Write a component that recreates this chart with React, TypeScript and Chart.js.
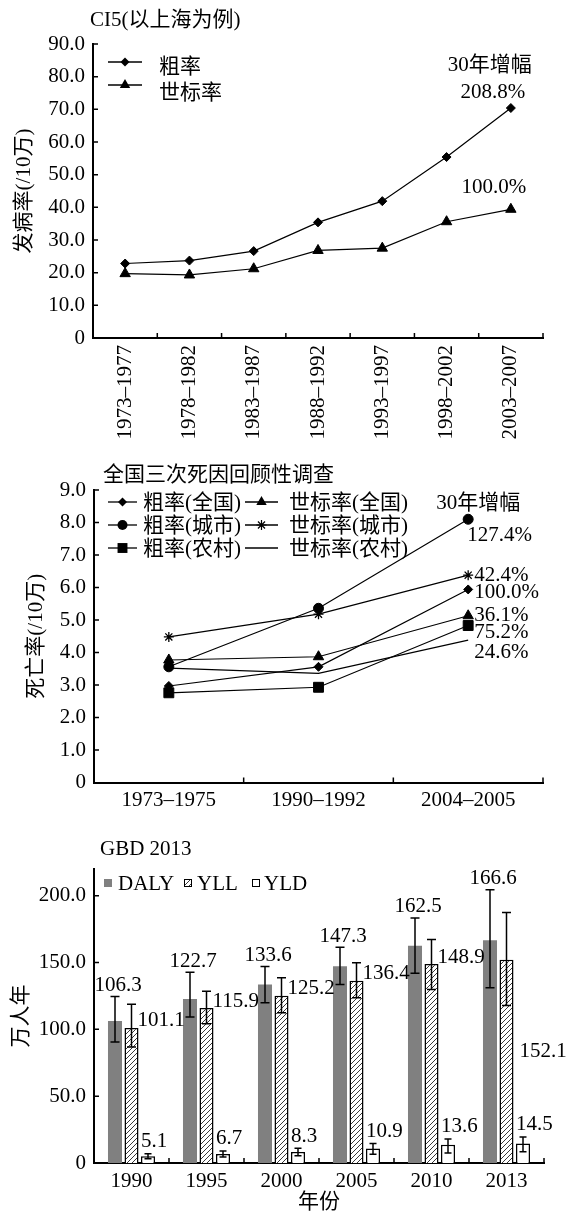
import React, { useEffect, useRef } from 'react';
import { Chart, registerables } from 'chart.js';

Chart.register(...registerables);

const FAMILY = '"Liberation Serif", "Noto Sans CJK SC", serif';
const FS = 21;
const FONT = { family: FAMILY, size: FS };
const W = 569;

// ---------- Panel 1: CI5 (Shanghai) ----------
const ci5Title = 'CI5(以上海为例)';
const ci5YTitle = '发病率(/10万)';
const ci5Periods = ['1973–1977', '1978–1982', '1983–1987', '1988–1992', '1993–1997', '1998–2002', '2003–2007'];
const ci5SeriesNames = ['粗率', '世标率'];
const ci5Crude = [22.8, 23.7, 26.6, 35.4, 41.9, 55.4, 70.4];
const ci5Std = [19.7, 19.3, 21.2, 26.8, 27.5, 35.6, 39.4];
const ci5Growth = ['208.8%', '100.0%'];
const growthHeader = '30年增幅';

// ---------- Panel 2: national death-cause surveys ----------
const deathTitle = '全国三次死因回顾性调查';
const deathYTitle = '死亡率(/10万)';
const deathPeriods = ['1973–1975', '1990–1992', '2004–2005'];
const deathSeriesNames = ['粗率(全国)', '世标率(全国)', '粗率(城市)', '世标率(城市)', '粗率(农村)', '世标率(农村)'];
const deathCrudeAll = [2.97, 3.56, 5.94];
const deathStdAll = [3.77, 3.87, 5.13];
const deathCrudeUrban = [3.56, 5.36, 8.1];
const deathStdUrban = [4.48, 5.18, 6.38];
const deathCrudeRural = [2.76, 2.93, 4.83];
const deathStdRural = [3.52, 3.36, 4.38];
const deathGrowth = ['100.0%', '36.1%', '127.4%', '42.4%', '75.2%', '24.6%'];

// ---------- Panel 3: GBD 2013 ----------
const gbdTitle = 'GBD 2013';
const gbdYTitle = '万人年';
const gbdXTitle = '年份';
const gbdYears = ['1990', '1995', '2000', '2005', '2010', '2013'];
const gbdSeriesNames = ['DALY', 'YLL', 'YLD'];
const daly = [106.3, 122.7, 133.6, 147.3, 162.5, 166.6];
const dalyLow = [90.5, 109.2, 119.9, 133.6, 142.0, 131.1];
const dalyHigh = [124.6, 142.8, 147.0, 161.4, 183.4, 204.5];
const yll = [101.1, 115.9, 125.2, 136.4, 148.9, 152.1];
const yllLow = [86.8, 104.2, 112.5, 123.7, 129.9, 117.9];
const yllHigh = [118.7, 128.6, 138.6, 149.8, 167.2, 187.5];
const yld = [5.1, 6.7, 8.3, 10.9, 13.6, 14.5];
const yldLow = [3.2, 4.4, 5.5, 6.5, 7.5, 8.5];
const yldHigh = [7.0, 9.0, 11.0, 14.5, 18.0, 19.5];

// ---------- helpers ----------
function drawText(ctx: CanvasRenderingContext2D, text: string, x: number, y: number, align: CanvasTextAlign = 'left') {
  ctx.save();
  ctx.font = `${FS}px ${FAMILY}`;
  ctx.fillStyle = '#000';
  ctx.textAlign = align;
  ctx.textBaseline = 'middle';
  ctx.fillText(text, x, y);
  ctx.restore();
}

function drawMarker(ctx: CanvasRenderingContext2D, style: string, x: number, y: number, r: number) {
  ctx.save();
  ctx.fillStyle = '#000';
  ctx.strokeStyle = '#000';
  ctx.lineWidth = 1.2;
  ctx.beginPath();
  if (style === 'rectRot') {
    ctx.moveTo(x, y - r); ctx.lineTo(x + r, y); ctx.lineTo(x, y + r); ctx.lineTo(x - r, y); ctx.closePath(); ctx.fill();
  } else if (style === 'triangle') {
    ctx.moveTo(x, y - r); ctx.lineTo(x + r * 0.866, y + r * 0.5); ctx.lineTo(x - r * 0.866, y + r * 0.5); ctx.closePath(); ctx.fill();
  } else if (style === 'circle') {
    ctx.arc(x, y, r, 0, Math.PI * 2); ctx.fill();
  } else if (style === 'rect') {
    const s = r * Math.SQRT1_2; ctx.rect(x - s, y - s, 2 * s, 2 * s); ctx.fill();
  } else if (style === 'star') {
    const d = r * Math.SQRT1_2;
    ctx.moveTo(x - r, y); ctx.lineTo(x + r, y); ctx.moveTo(x, y - r); ctx.lineTo(x, y + r);
    ctx.moveTo(x - d, y - d); ctx.lineTo(x + d, y + d); ctx.moveTo(x - d, y + d); ctx.lineTo(x + d, y - d);
    ctx.stroke();
  }
  ctx.restore();
}

function legendLine(ctx: CanvasRenderingContext2D, x1: number, x2: number, y: number, style: string | null, r: number) {
  ctx.save();
  ctx.strokeStyle = '#000';
  ctx.lineWidth = 1.3;
  ctx.beginPath(); ctx.moveTo(x1, y); ctx.lineTo(x2, y); ctx.stroke();
  ctx.restore();
  if (style) drawMarker(ctx, style, (x1 + x2) / 2, y, r);
}

function innerTicks(len = 5) {
  return {
    id: 'innerTicks',
    afterDraw(chart: any) {
      const { ctx, chartArea: a, scales } = chart;
      const xs = scales.x, ys = scales.y;
      ctx.save();
      ctx.strokeStyle = '#000';
      ctx.lineWidth = 1.5;
      ctx.beginPath();
      ys.ticks.forEach((t: any) => {
        if (t.value === ys.min) return;
        const py = ys.getPixelForValue(t.value);
        ctx.moveTo(a.left, py); ctx.lineTo(a.left + len, py);
      });
      const n = xs.ticks.length;
      for (let i = 0; i < n; i++) {
        const px = i === n - 1 ? a.right : xs.getPixelForValue(i + 0.5);
        ctx.moveTo(px, a.bottom); ctx.lineTo(px, a.bottom - len);
      }
      ctx.stroke();
      ctx.restore();
    },
  };
}

function yScale(max: number, step: number, width: number, title: string, titlePad: number) {
  return {
    min: 0,
    max,
    afterBuildTicks: (s: any) => { s.ticks = s.ticks.filter((t: any) => Math.abs(t.value / step - Math.round(t.value / step)) < 1e-9); },
    ticks: {
      stepSize: step,
      padding: 8,
      color: '#000',
      font: FONT,
      callback: (v: any) => (Number(v) === 0 ? '0' : Number(v).toFixed(1)),
    },
    grid: { display: false, drawTicks: false },
    border: { display: true, color: '#000', width: 2 },
    title: { display: true, text: title, color: '#000', font: FONT, padding: { top: titlePad, bottom: 0 } },
    afterFit: (s: any) => { s.width = width; },
  };
}

function xScale(height: number, rotation: number, pad: number, title?: string) {
  return {
    type: 'category',
    offset: true,
    grid: { display: false, drawTicks: false, offset: true },
    border: { display: true, color: '#000', width: 2 },
    ticks: { autoSkip: false, minRotation: rotation, maxRotation: rotation, padding: pad, color: '#000', font: FONT },
    title: title
      ? { display: true, text: title, color: '#000', font: { family: FAMILY, size: FS, lineHeight: 1 }, padding: { top: 0, bottom: 0 } }
      : { display: false },
    afterFit: (s: any) => { s.height = height; },
  };
}

const baseOptions = (padding: any) => ({
  animation: false,
  responsive: false,
  events: [],
  layout: { padding },
  plugins: { legend: { display: false }, tooltip: { enabled: false } },
});

const lineDs = (label: string, data: number[], style: string | false, r: number) => ({
  label,
  data,
  borderColor: '#000',
  backgroundColor: '#000',
  borderWidth: 1.2,
  pointStyle: style,
  pointRadius: style ? r : 0,
  pointBackgroundColor: '#000',
  pointBorderColor: '#000',
  pointBorderWidth: style === 'star' ? 1.3 : 1,
  tension: 0,
});

// ---------- chart configs ----------
function makeCi5() {
  const extras = {
    id: 'ci5Extras',
    afterDraw(chart: any) {
      const ctx = chart.ctx as CanvasRenderingContext2D;
      drawText(ctx, ci5Title, 90, 20);
      // legend
      legendLine(ctx, 108, 142, 62, 'rectRot', 4.5);
      drawText(ctx, ci5SeriesNames[0], 159, 67);
      legendLine(ctx, 108, 142, 85, 'triangle', 6);
      drawText(ctx, ci5SeriesNames[1], 159, 93);
      // growth labels
      const m0 = chart.getDatasetMeta(0).data;
      const p0 = m0[m0.length - 1];
      drawText(ctx, growthHeader, p0.x - 21, p0.y - 43, 'center');
      drawText(ctx, ci5Growth[0], p0.x - 18, p0.y - 16, 'center');
      const m1 = chart.getDatasetMeta(1).data;
      const p1 = m1[m1.length - 1];
      drawText(ctx, ci5Growth[1], p1.x - 17, p1.y - 22, 'center');
    },
  };
  return {
    type: 'line',
    data: {
      labels: ci5Periods,
      datasets: [lineDs(ci5SeriesNames[0], ci5Crude, 'rectRot', 4.5), lineDs(ci5SeriesNames[1], ci5Std, 'triangle', 6)],
    },
    options: {
      ...baseOptions({ top: 44, right: 26, left: 0, bottom: 0 }),
      scales: { x: xScale(117, 90, 7), y: yScale(90, 10, 93, ci5YTitle, 12) },
    },
    plugins: [innerTicks(5), extras],
  };
}

const deathStyles: [string | false, number][] = [
  ['rectRot', 4.5],
  ['triangle', 6],
  ['circle', 5],
  ['star', 5],
  ['rect', 7],
  [false, 0],
];
const deathLabelOffsets: [number, number][] = [
  [6, 3],
  [6, 0],
  [-1, 16],
  [6, 0],
  [6, 6.5],
  [6, 12],
];

function makeDeath() {
  const series = [deathCrudeAll, deathStdAll, deathCrudeUrban, deathStdUrban, deathCrudeRural, deathStdRural];
  const extras = {
    id: 'deathExtras',
    afterDraw(chart: any) {
      const ctx = chart.ctx as CanvasRenderingContext2D;
      drawText(ctx, deathTitle, 103, 20);
      // legend 2 columns x 3 rows
      const rows = [47, 70, 93];
      const cols = [
        { x1: 108, x2: 137, tx: 143 },
        { x1: 245, x2: 278, tx: 289 },
      ];
      deathSeriesNames.forEach((name, i) => {
        const row = Math.floor(i / 2), col = i % 2;
        const c = cols[col];
        const [st, r] = deathStyles[i];
        legendLine(ctx, c.x1, c.x2, rows[row], st || null, r);
        drawText(ctx, name, c.tx, rows[row] + 1);
      });
      // growth labels
      series.forEach((_, i) => {
        const d = chart.getDatasetMeta(i).data;
        const p = d[d.length - 1];
        const [dx, dy] = deathLabelOffsets[i];
        drawText(ctx, deathGrowth[i], p.x + dx, p.y + dy, 'left');
        if (i === 2) drawText(ctx, growthHeader, p.x + 10, p.y - 16, 'center');
      });
    },
  };
  return {
    type: 'line',
    data: {
      labels: deathPeriods,
      datasets: series.map((s, i) => lineDs(deathSeriesNames[i], s, deathStyles[i][0], deathStyles[i][1])),
    },
    options: {
      ...baseOptions({ top: 35, right: 26, left: 0, bottom: 0 }),
      scales: { x: xScale(47.5, 0, 5), y: yScale(9, 1, 94, deathYTitle, 24) },
    },
    plugins: [innerTicks(5), extras],
  };
}

function makeHatch(): CanvasPattern | string {
  const c = document.createElement('canvas');
  c.width = 5; c.height = 5;
  const g = c.getContext('2d');
  if (!g) return '#ccc';
  g.fillStyle = '#fff'; g.fillRect(0, 0, 5, 5);
  g.strokeStyle = '#222'; g.lineWidth = 0.9;
  g.beginPath();
  g.moveTo(0, 5); g.lineTo(5, 0);
  g.moveTo(-1, 1); g.lineTo(1, -1);
  g.moveTo(4, 6); g.lineTo(6, 4);
  g.stroke();
  return g.createPattern(c, 'repeat') || '#ccc';
}

function makeGbd() {
  const hatch = makeHatch();
  const lows = [dalyLow, yllLow, yldLow];
  const highs = [dalyHigh, yllHigh, yldHigh];
  const values = [daly, yll, yld];
  const extras = {
    id: 'gbdExtras',
    afterDatasetsDraw(chart: any) {
      const ctx = chart.ctx as CanvasRenderingContext2D;
      const ys = chart.scales.y;
      // error bars
      ctx.save();
      ctx.strokeStyle = '#000';
      ctx.lineWidth = 1.5;
      [0, 1, 2].forEach((d) => {
        chart.getDatasetMeta(d).data.forEach((el: any, j: number) => {
          const x = el.x;
          const y1 = ys.getPixelForValue(lows[d][j]);
          const y2 = ys.getPixelForValue(highs[d][j]);
          const cap = d === 2 ? 3.5 : 4.5;
          ctx.beginPath();
          ctx.moveTo(x, y1); ctx.lineTo(x, y2);
          ctx.moveTo(x - cap, y1); ctx.lineTo(x + cap, y1);
          ctx.moveTo(x - cap, y2); ctx.lineTo(x + cap, y2);
          ctx.stroke();
        });
      });
      ctx.restore();
      // value labels
      chart.getDatasetMeta(0).data.forEach((el: any, j: number) => {
        drawText(ctx, values[0][j].toFixed(1), el.x + 3, ys.getPixelForValue(highs[0][j]) - 11, 'center');
      });
      const yllMeta = chart.getDatasetMeta(1).data;
      yllMeta.forEach((el: any, j: number) => {
        const last = j === yllMeta.length - 1;
        const x = el.x + el.width / 2 + (last ? 6 : -1);
        const y = last ? ys.getPixelForValue(values[1][j] / 2) - 10 : ys.getPixelForValue(values[1][j]) - 7;
        drawText(ctx, values[1][j].toFixed(1), x, y, 'left');
      });
      chart.getDatasetMeta(2).data.forEach((el: any, j: number) => {
        drawText(ctx, values[2][j].toFixed(1), el.x - el.width / 2, ys.getPixelForValue(highs[2][j]) - 12, 'left');
      });
    },
    afterDraw(chart: any) {
      const ctx = chart.ctx as CanvasRenderingContext2D;
      drawText(ctx, gbdTitle, 100, 19);
      const ly = 53;
      const swatches = [
        { x: 104, fill: '#808080' as any, stroke: false, tx: 118 },
        { x: 184, fill: hatch, stroke: true, tx: 197 },
        { x: 252, fill: '#fff' as any, stroke: true, tx: 264 },
      ];
      swatches.forEach((s, i) => {
        ctx.save();
        ctx.fillStyle = s.fill;
        ctx.fillRect(s.x, ly - 4, 8, 8);
        if (s.stroke) { ctx.strokeStyle = '#000'; ctx.lineWidth = 1; ctx.strokeRect(s.x + 0.5, ly - 3.5, 7, 7); }
        ctx.restore();
        drawText(ctx, gbdSeriesNames[i], s.tx, ly + 1);
      });
    },
  };
  return {
    type: 'bar',
    data: {
      labels: gbdYears,
      datasets: [
        { label: gbdSeriesNames[0], data: daly, backgroundColor: '#808080', borderWidth: 0, categoryPercentage: 0.66, barPercentage: 0.85 },
        { label: gbdSeriesNames[1], data: yll, backgroundColor: hatch, borderColor: '#000', borderWidth: 1.5, categoryPercentage: 0.66, barPercentage: 0.85 },
        { label: gbdSeriesNames[2], data: yld, backgroundColor: '#fff', borderColor: '#000', borderWidth: 1.5, categoryPercentage: 0.66, barPercentage: 0.85 },
      ],
    },
    options: {
      ...baseOptions({ top: 39, right: 25, left: 0, bottom: 0 }),
      scales: { x: xScale(50, 0, 6, gbdXTitle), y: yScale(220, 50, 94, gbdYTitle, 9) },
    },
    plugins: [innerTicks(5), extras],
  };
}

function ChartPanel({ top, height, make }: { top: number; height: number; make: () => any }) {
  const ref = useRef<HTMLCanvasElement>(null);
  useEffect(() => {
    if (!ref.current) return;
    const chart = new Chart(ref.current, make());
    return () => chart.destroy();
  }, []);
  return (
    <div style={{ position: 'absolute', left: 0, top, width: W, height }}>
      <canvas ref={ref} width={W} height={height} style={{ display: 'block' }} />
    </div>
  );
}

export default function App() {
  return (
    <div style={{ position: 'absolute', left: 0, top: 0, width: W, height: 1213, overflow: 'hidden', background: '#fff' }}>
      <ChartPanel top={0} height={455} make={makeCi5} />
      <ChartPanel top={455} height={375} make={makeDeath} />
      <ChartPanel top={830} height={383} make={makeGbd} />
    </div>
  );
}
